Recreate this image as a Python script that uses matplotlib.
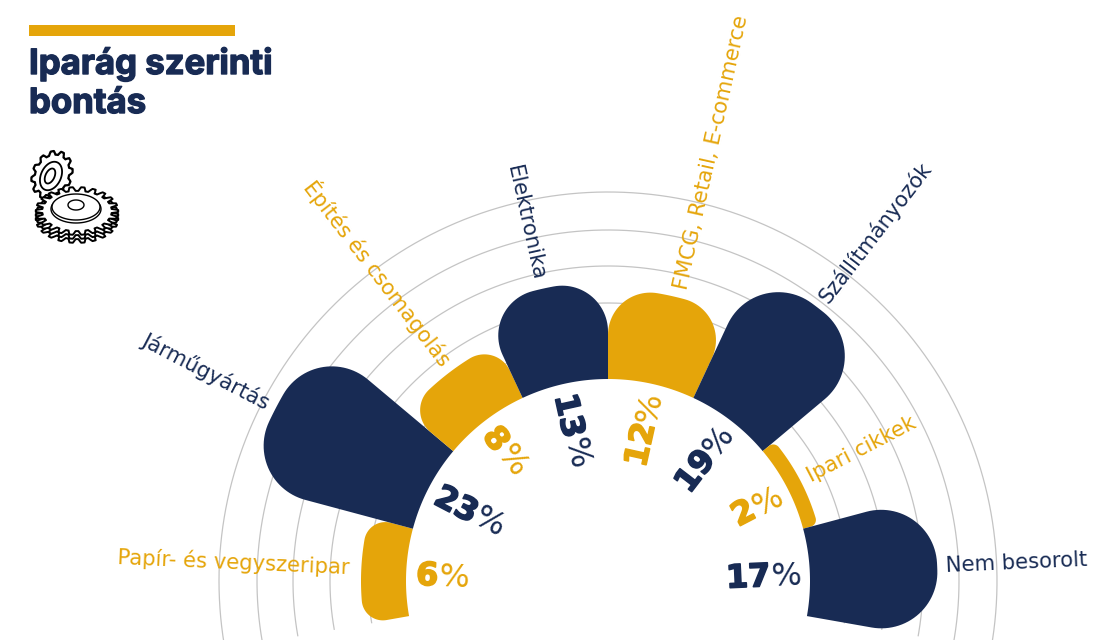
import numpy as np
import matplotlib
matplotlib.use("Agg")
import matplotlib.pyplot as plt
import matplotlib.patheffects as pe
from matplotlib.patches import Polygon, Rectangle

categories = ["Papír- és vegyszeripar", "Járműgyártás", "Építés és csomagolás", "Elektronika",
              "FMCG, Retail, E-commerce", "Szállítmányozók", "Ipari cikkek", "Nem besorolt"]
values = [6, 23, 8, 13, 12, 19, 2, 17]

NAVY = "#182b54"
GOLD = "#e5a50a"
GRID = "#c4c4c4"
bar_colors = [GOLD, NAVY, GOLD, NAVY, GOLD, NAVY, GOLD, NAVY]

# pixel layout of the half-dial, angles are clockwise from straight up
cx, cy = 608, 581
r_inner = 202
r_per_unit = 7.5
start_angle, end_angle = -100, 100
ring_radii = [240, 278, 315, 351, 389]
corner = 56
name_nudge = [0.5, 0, 1, -0.5, 1.5, 0, 0, 0]
name_gap = [12, 9, 9, 9, 9, 9, 9, 9]

fig = plt.figure(figsize=(11.03, 6.4), dpi=100)
ax = fig.add_axes([0, 0, 1, 1])
ax.set_xlim(0, 1103)
ax.set_ylim(640, 0)
ax.axis("off")


def polar_xy(angle, r):
    a = np.radians(angle)
    return cx + r*np.sin(a), cy - r*np.cos(a)


def bar_outline(a0, a1, r0, r1):
    #rounded only on the outer corners, fillet is tangent to side and outer arc
    half = np.sin(np.radians((a1 - a0)/2))
    c = min(corner, 0.47*(r1 - r0), r1*half/(1 + half))
    delta = np.degrees(np.arcsin(c/(r1 - c)))
    pts = [polar_xy(np.linspace(a1, a0, 40), r0)]

    # left fillet
    mx, my = polar_xy(a0 + delta, r1 - c)
    phi = np.radians(np.linspace(a0 - 90, a0 + delta, 30))
    pts.append((mx + c*np.sin(phi), my - c*np.cos(phi)))

    pts.append(polar_xy(np.linspace(a0 + delta, a1 - delta, 40), r1))

    # right fillet
    mx, my = polar_xy(a1 - delta, r1 - c)
    phi = np.radians(np.linspace(a1 - delta, a1 + 90, 30))
    pts.append((mx + c*np.sin(phi), my - c*np.cos(phi)))

    return np.column_stack([np.concatenate([p[0] for p in pts]),
                            np.concatenate([p[1] for p in pts])])


def text_width(s, **kw):
    t = ax.text(0, 0, s, **kw)
    w = t.get_window_extent(fig.canvas.get_renderer()).width
    t.remove()
    return w


def draw_gear(x0, y0, rx, ry, tilt, n_teeth, depth, lw, copies=3):
    #extruded cog seen from above, the lower copy gives the thickness
    t = np.linspace(0, 2*np.pi, 48*n_teeth, endpoint=False)
    wave = np.clip(1.6*np.cos(n_teeth*t), -1, 1)
    rad = 1 + 0.085*wave
    ex, ey = rx*rad*np.cos(t), ry*rad*np.sin(t)
    tr = np.radians(tilt)
    gx = ex*np.cos(tr) - ey*np.sin(tr)
    gy = ex*np.sin(tr) + ey*np.cos(tr)
    for k in np.linspace(1, 0, copies):
        ax.add_patch(Polygon(np.column_stack([x0 + gx + k*depth[0], y0 + gy + k*depth[1]]),
                             closed=True, fc="white", ec="black", lw=lw, zorder=5))


def draw_ellipse(x0, y0, rx, ry, tilt, lw):
    t = np.linspace(0, 2*np.pi, 80)
    tr = np.radians(tilt)
    ex, ey = rx*np.cos(t), ry*np.sin(t)
    ax.add_patch(Polygon(np.column_stack([x0 + ex*np.cos(tr) - ey*np.sin(tr),
                                          y0 + ex*np.sin(tr) + ey*np.cos(tr)]),
                         closed=True, fc="white", ec="black", lw=lw, zorder=6))


# grid rings
ring_angles = np.linspace(start_angle, end_angle, 300)
for r in ring_radii:
    x, y = polar_xy(ring_angles, r)
    ax.plot(x, y, color=GRID, lw=0.9, zorder=1)

step = (end_angle - start_angle)/len(values)
for i, (name, v, col) in enumerate(zip(categories, values, bar_colors)):
    a0 = start_angle + i*step
    a1 = a0 + step
    mid = (a0 + a1)/2
    r1 = r_inner + r_per_unit*v
    ax.add_patch(Polygon(bar_outline(a0, a1, r_inner, r1), closed=True, fc=col, ec="none", zorder=2))

    # text reads towards the centre on the left side, outwards on the right
    left = mid < 0
    rot = -(mid + 90) if left else 90 - mid
    lx, ly = polar_xy(mid + name_nudge[i], r1 + name_gap[i])
    ax.text(lx, ly, name, color=col, fontsize=15.2, rotation=rot, rotation_mode="anchor",
            ha="right" if left else "left", va="center", zorder=4)

    # value label: heavy number with a thin percent sign
    num_kw = dict(fontsize=23, fontweight="bold")
    pct_kw = dict(fontsize=23)
    w_num = text_width(str(v), **num_kw)
    w_pct = text_width("%", **pct_kw)
    if left:
        nx, ny = polar_xy(mid, 192)
        px, py = polar_xy(mid, 192 - w_num)
    else:
        # read outwards, so the number starts at the inner end
        r_text = 193 - (w_num + w_pct)
        nx, ny = polar_xy(mid, r_text)
        px, py = polar_xy(mid, r_text + w_num)
    ax.text(nx, ny, str(v), color=col, rotation=rot, rotation_mode="anchor",
            ha="left", va="center_baseline", zorder=4,
            path_effects=[pe.withStroke(linewidth=1.2, foreground=col)], **num_kw)
    ax.text(px, py, "%", color=col, rotation=rot, rotation_mode="anchor",
            ha="left", va="center_baseline", zorder=4, **pct_kw)

# heading
title_effect = [pe.withStroke(linewidth=1.0, foreground=NAVY)]
ax.add_patch(Rectangle((29, 25), 206, 10.5, fc=GOLD, ec="none"))
ax.text(29, 74, "Iparág szerinti", color=NAVY, fontsize=25, family="Inter", fontweight="bold",
        va="baseline", path_effects=title_effect)
ax.text(29, 113, "bontás", color=NAVY, fontsize=25, family="Inter", fontweight="bold",
        va="baseline", path_effects=title_effect)

# cog icon
draw_gear(52, 175, 18, 23, 25, 12, (0, 0), 1.6, copies=1)
draw_ellipse(51, 176, 10, 15, 25, 1.3)
draw_ellipse(50, 176, 4.5, 8, 25, 1.3)
draw_gear(77, 211, 38, 22, 0, 22, (0, 8), 1.4)
draw_ellipse(76, 209, 25, 14, 0, 1.0)
draw_ellipse(76, 207, 24, 13, 0, 1.0)
draw_ellipse(76, 205, 8, 5, 0, 1.0)

fig.savefig("out.png", dpi=100)
